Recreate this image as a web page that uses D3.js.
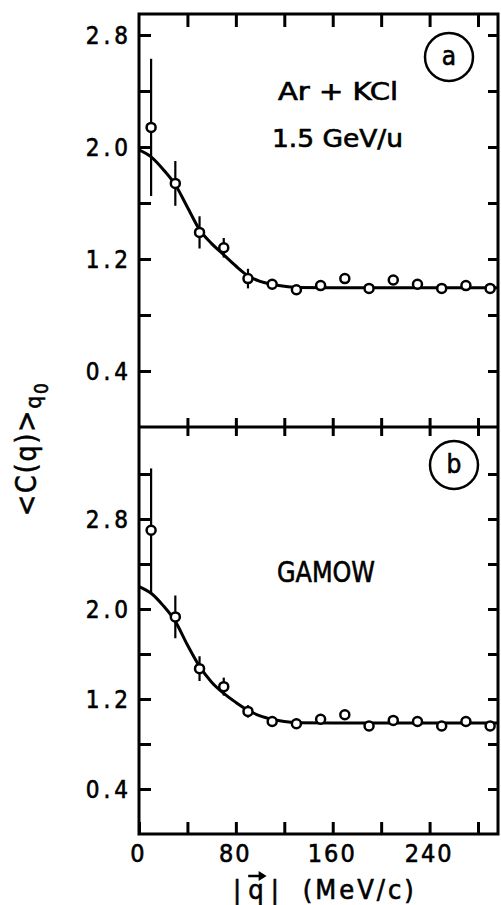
<!DOCTYPE html>
<html>
<head>
<meta charset="utf-8">
<script src="https://cdn.jsdelivr.net/npm/d3@7"></script>
<style>
  body { margin: 0; background: #fff; }
  svg text { font-family: 'DejaVu Sans Condensed', 'DejaVu Sans', sans-serif; fill: #000; stroke: #000; stroke-width: 0.6px; }
</style>
</head>
<body>
<div id="viz"></div>
<script>
// measured points, q in MeV/c
let qValues = [10, 30, 50, 70, 90, 110, 130, 150, 170, 190, 210, 230, 250, 270, 290];
// panel (a) Ar + KCl
let cA = [2.14, 1.74, 1.39, 1.28, 1.06, 1.02, 0.98, 1.01, 1.06, 0.99, 1.05, 1.02, 0.99, 1.01, 0.99];
let errA = [0.49, 0.16, 0.115, 0.07, 0.07, 0.02, 0.02, 0.02, 0.03, 0.02, 0.03, 0.02, 0.02, 0.02, 0.02];
// panel (b) GAMOW
let cB = [2.70, 1.93, 1.47, 1.31, 1.09, 1.00, 0.98, 1.02, 1.06, 0.96, 1.01, 1.00, 0.96, 1.00, 0.96];
let errB = [0.55, 0.19, 0.11, 0.08, 0.055, 0.02, 0.02, 0.02, 0.03, 0.02, 0.02, 0.02, 0.02, 0.02, 0.02];

// fitted curves
let curveQ = [0, 10, 20, 30, 40, 50, 60, 70, 80, 90, 100, 110, 120, 130, 160, 200, 250, 296];
let curveA = [1.98, 1.93, 1.84, 1.73, 1.57, 1.41, 1.31, 1.23, 1.15, 1.08, 1.04, 1.02, 1.005, 0.997, 0.995, 0.995, 0.995, 0.995];
let curveB = [2.20, 2.14, 2.03, 1.89, 1.68, 1.49, 1.35, 1.25, 1.17, 1.10, 1.05, 1.02, 1.0, 0.99, 0.987, 0.987, 0.987, 0.987];

let xTicks = [0, 40, 80, 120, 160, 200, 240, 280];
let xLabels = [0, 80, 160, 240];
let yTicksA = [0.4, 0.8, 1.2, 1.6, 2.0, 2.4, 2.8];
let yTicksB = [0.4, 0.8, 1.2, 1.6, 2.0, 2.4, 2.8, 3.2];
let yLabels = [0.4, 1.2, 2.0, 2.8];

let W = 501, H = 905;
let xL = 139, xR = 498, yT = 14, yM = 427, yBot = 834;

let svg = d3.select("#viz").append("svg")
    .attr("width", W)
    .attr("height", H);

let x = d3.scaleLinear().domain([0, 296.5]).range([xL, xR]);
let yA = d3.scaleLinear().domain([0, 2.95]).range([yM, yT]);
let yB = d3.scaleLinear().domain([0, 3.618]).range([yBot, yM]);

function fmt(d) {
    return yLabels.some(v => Math.abs(v - d) < 1e-6) ? d.toFixed(1) : "";
}

function styleAxis(g) {
    g.select(".domain").remove();
    g.selectAll(".tick line").attr("stroke", "#000").attr("stroke-width", 3);
    g.selectAll(".tick text")
        .attr("fill", "#000")
        .style("font-size", "24px")
        .style("letter-spacing", "4px");
}

function panel(yScale, yTicks, values, errs, curve) {
    // left axis with labels
    let gl = svg.append("g").attr("transform", "translate(" + xL + ",0)")
        .call(d3.axisLeft(yScale).tickValues(yTicks).tickSize(-12).tickPadding(7).tickFormat(fmt));
    styleAxis(gl);
    gl.selectAll(".tick text").attr("dy", "0.36em");

    // right axis, ticks only
    let gr = svg.append("g").attr("transform", "translate(" + xR + ",0)")
        .call(d3.axisRight(yScale).tickValues(yTicks).tickSize(-10).tickFormat(""));
    styleAxis(gr);

    // fitted curve
    let line = d3.line()
        .x((d, i) => x(curveQ[i]))
        .y(d => yScale(d))
        .curve(d3.curveMonotoneX);
    svg.append("path")
        .datum(curve)
        .attr("d", line)
        .attr("fill", "none")
        .attr("stroke", "#000")
        .attr("stroke-width", 3);

    // error bars
    svg.selectAll(null)
        .data(values)
        .enter()
        .append("line")
        .attr("x1", (d, i) => x(qValues[i]))
        .attr("x2", (d, i) => x(qValues[i]))
        .attr("y1", (d, i) => yScale(d + errs[i]))
        .attr("y2", (d, i) => yScale(d - errs[i]))
        .attr("stroke", "#000")
        .attr("stroke-width", 2.2);

    // open circles
    svg.selectAll(null)
        .data(values)
        .enter()
        .append("circle")
        .attr("cx", (d, i) => x(qValues[i]))
        .attr("cy", d => yScale(d))
        .attr("r", 4.5)
        .attr("fill", "#fff")
        .attr("stroke", "#000")
        .attr("stroke-width", 2.5);
}

panel(yA, yTicksA, cA, errA, curveA);
panel(yB, yTicksB, cB, errB, curveB);

// x ticks: top edge, divider (both panels), bottom edge
let gt = svg.append("g").attr("transform", "translate(0," + yT + ")")
    .call(d3.axisTop(x).tickValues(xTicks.slice(1)).tickSize(-13).tickFormat(""));
styleAxis(gt);
let gm1 = svg.append("g").attr("transform", "translate(0," + yM + ")")
    .call(d3.axisBottom(x).tickValues(xTicks.slice(1)).tickSize(-9).tickFormat(""));
styleAxis(gm1);
let gm2 = svg.append("g").attr("transform", "translate(0," + yM + ")")
    .call(d3.axisTop(x).tickValues(xTicks.slice(1)).tickSize(-9).tickFormat(""));
styleAxis(gm2);
let gb = svg.append("g").attr("transform", "translate(0," + yBot + ")")
    .call(d3.axisBottom(x).tickValues(xTicks).tickSize(-12).tickPadding(10)
        .tickFormat(d => xLabels.includes(d) ? d : ""));
styleAxis(gb);
gb.selectAll(".tick text").attr("dx", "-1px").style("font-size", "25px").style("letter-spacing", "2px");

// frame
let frame = d3.path();
frame.moveTo(xL, yT); frame.lineTo(xR, yT); frame.lineTo(xR, yBot);
frame.lineTo(xL, yBot); frame.closePath();
frame.moveTo(xL, yM); frame.lineTo(xR, yM);
svg.append("path").attr("d", frame.toString())
    .attr("fill", "none").attr("stroke", "#000").attr("stroke-width", 3)
    .attr("stroke-linecap", "square");

// panel letters in circles
function badge(cx, cy, letter) {
    svg.append("circle").attr("cx", cx).attr("cy", cy).attr("r", 24)
        .attr("fill", "none").attr("stroke", "#000").attr("stroke-width", 2.5);
    svg.append("text").attr("x", cx).attr("y", cy + 8)
        .attr("text-anchor", "middle")
        .style("font-size", "26px")
        .text(letter);
}
badge(449, 57, "a");
badge(454, 465, "b");

// annotations
svg.append("text").attr("x", 278).attr("y", 100)
    .attr("textLength", 120).attr("lengthAdjust", "spacingAndGlyphs")
    .style("font-size", "24px").text("Ar + KCl");
svg.append("text").attr("x", 272).attr("y", 147)
    .attr("textLength", 131).attr("lengthAdjust", "spacingAndGlyphs")
    .style("font-size", "24px").text("1.5 GeV/u");
svg.append("text").attr("x", 277).attr("y", 582)
    .attr("textLength", 98).attr("lengthAdjust", "spacingAndGlyphs")
    .style("font-size", "29px").text("GAMOW");

// y axis title
let yt = svg.append("text")
    .attr("transform", "translate(36,516) rotate(-90)")
    .style("font-size", "28px").style("letter-spacing", "2px");
yt.append("tspan").text("<C(q)>");
yt.append("tspan").attr("dy", 5).style("font-size", "22px").text("q");
yt.append("tspan").attr("dy", 7).style("font-size", "19px").text("0");

// x axis title
let xt = svg.append("text").attr("x", 233).attr("y", 899)
    .style("font-size", "27px");
xt.append("tspan").text("|");
xt.append("tspan").attr("dx", 7).text("q");
xt.append("tspan").attr("dx", 7).text("|");
xt.append("tspan").attr("dx", 24).style("letter-spacing", "3px").text("(MeV/c)");

// arrow over q
let qb = xt.node().getExtentOfChar(1);
let ax0 = qb.x, ax1 = qb.x + qb.width + 2, ay = 876;
svg.append("line").attr("x1", ax0).attr("x2", ax1 - 2).attr("y1", ay).attr("y2", ay)
    .attr("stroke", "#000").attr("stroke-width", 2.5);
svg.append("path")
    .attr("d", "M" + (ax1 - 7) + "," + (ay - 5) + "L" + (ax1 + 1) + "," + ay + "L" + (ax1 - 7) + "," + (ay + 5) + "Z")
    .attr("fill", "#000");
</script>
</body>
</html>
